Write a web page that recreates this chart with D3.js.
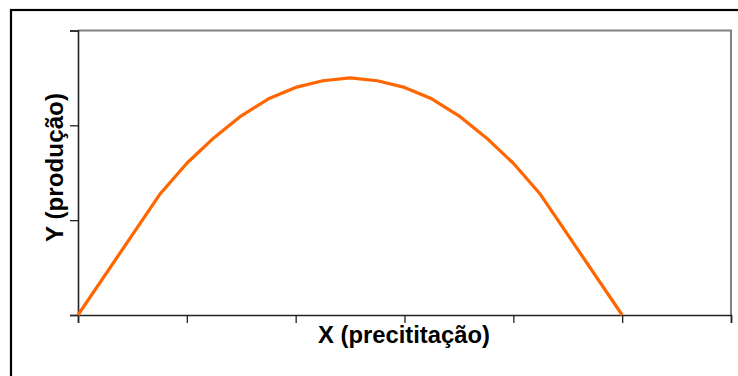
<!DOCTYPE html>
<html><head><meta charset="utf-8">
<script src="https://cdn.jsdelivr.net/npm/d3@7"></script>
<style>html,body{margin:0;padding:0;background:#fff;}svg{display:block;}</style>
</head><body>
<script>
const xValues = [0, 3, 4, 5, 6, 7, 8, 9, 10, 11, 12, 13, 14, 15, 16, 17, 20];
const yValues = [0, 1.27, 1.6, 1.87, 2.1, 2.28, 2.4, 2.47, 2.5, 2.47, 2.4, 2.28, 2.1, 1.87, 1.6, 1.27, 0];
const xTicks = [0, 4, 8, 12, 16, 20, 24];
const yTicks = [0, 1, 2, 3];
const xTitle = "X (precititação)";
const yTitle = "Y (produção)";

const W = 738, H = 376;
const svg = d3.select("body").append("svg").attr("width", W).attr("height", H);
svg.append("rect").attr("width", W).attr("height", H).attr("fill", "#fff");
// outer chart border (cut off at right/bottom)
svg.append("rect").attr("x", 11).attr("y", 10).attr("width", 740).attr("height", 380)
  .attr("fill", "none").attr("stroke", "#000").attr("stroke-width", 2.2);

const L = 78, R = 731, T = 30.5, B = 315;
const x = d3.scaleLinear().domain([0, 24]).range([L, R]);
const y = d3.scaleLinear().domain([0, 3]).range([B, T]);

// plot area border
svg.append("path").attr("d", `M${L},${T}H${R}V${B}`).attr("fill", "none")
  .attr("stroke", "#808080").attr("stroke-width", 2);

const yAxis = svg.append("g").attr("transform", `translate(${L},0)`)
  .call(d3.axisLeft(y).tickValues(yTicks).tickSize(8).tickFormat(""));
const xAxis = svg.append("g").attr("transform", `translate(0,${B})`)
  .call(d3.axisBottom(x).tickValues(xTicks).tickSize(8).tickFormat(""));
[yAxis, xAxis].forEach(g => {
  g.select(".domain").attr("stroke", "#222").attr("stroke-width", 1.6);
  g.selectAll(".tick line").attr("stroke", "#222").attr("stroke-width", 1.3);
});

const pts = xValues.map((v, i) => [v, yValues[i]]);
svg.append("path").datum(pts)
  .attr("d", d3.line().x(d => x(d[0])).y(d => y(d[1])))
  .attr("fill", "none").attr("stroke", "#FF6600").attr("stroke-width", 3.2)
  .attr("stroke-linejoin", "round");

svg.append("text").attr("x", 404).attr("y", 343).attr("text-anchor", "middle")
  .attr("font-family", "Liberation Sans, Arial, sans-serif").attr("font-weight", "bold")
  .attr("font-size", 23).attr("textLength", 172).attr("lengthAdjust", "spacingAndGlyphs")
  .text(xTitle);
svg.append("text").attr("transform", "translate(63,167.5) rotate(-90)").attr("text-anchor", "middle")
  .attr("font-family", "Liberation Sans, Arial, sans-serif").attr("font-weight", "bold")
  .attr("font-size", 23).attr("textLength", 149).attr("lengthAdjust", "spacingAndGlyphs")
  .text(yTitle);
</script>
</body></html>
